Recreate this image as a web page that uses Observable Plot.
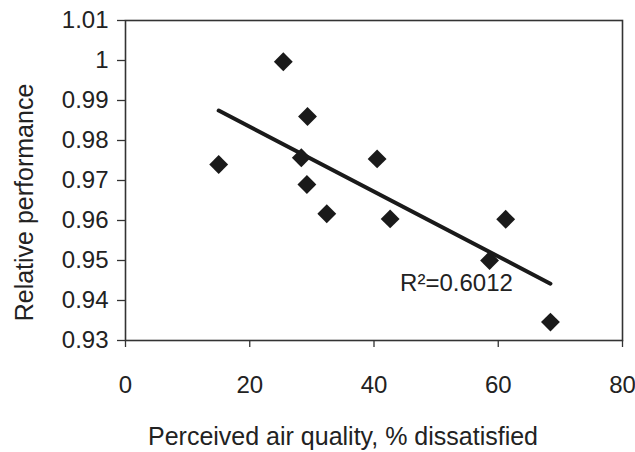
<!DOCTYPE html>
<html>
<head>
<meta charset="utf-8">
<script src="https://cdn.jsdelivr.net/npm/d3@7"></script>
<script src="https://cdn.jsdelivr.net/npm/@observablehq/plot@0.6"></script>
<style>
  html, body { margin: 0; padding: 0; background: #fff; }
  #chart svg { display: block; }
</style>
</head>
<body>
<div id="chart"></div>
<script>
// Data
const dissatisfied = [15, 25.4, 29.3, 28.3, 29.2, 32.4, 40.5, 42.6, 61.2, 58.6, 68.4];
const performance  = [0.974, 0.9997, 0.986, 0.9757, 0.969, 0.9617, 0.9754, 0.9604, 0.9603, 0.950, 0.9346];

const xTicks = [0, 20, 40, 60, 80];
const xTickLabels = ["0", "20", "40", "60", "80"];
const yTicks = [0.93, 0.94, 0.95, 0.96, 0.97, 0.98, 0.99, 1.00, 1.01];
const yTickLabels = ["0.93", "0.94", "0.95", "0.96", "0.97", "0.98", "0.99", "1", "1.01"];

const xLabel = "Perceived air quality, % dissatisfied";
const yLabel = "Relative performance";
const r2Label = "R\u00B2=0.6012";

const data = dissatisfied.map((x, i) => ({x, y: performance[i]}));

const ink = "#222";

const chart = Plot.plot({
  width: 635,
  height: 452,
  marginLeft: 125,
  marginRight: 13,
  marginTop: 20,
  marginBottom: 112,
  style: {fontFamily: "'Liberation Sans', Arial, Helvetica, sans-serif", background: "#fff", color: ink},
  x: {domain: [0, 80], axis: null},
  y: {domain: [0.93, 1.01], axis: null},
  marks: [
    Plot.frame({stroke: "#333", strokeWidth: 1.6}),
    Plot.axisX({
      ticks: xTicks,
      tickFormat: (d) => xTickLabels[xTicks.indexOf(d)],
      tickSize: 7, tickPadding: 28, fontSize: 24, stroke: "#333", strokeWidth: 1.3, fill: ink, label: null
    }),
    Plot.axisY({
      ticks: yTicks,
      tickFormat: (d) => yTickLabels[yTicks.indexOf(d)],
      tickSize: 8, tickPadding: 9, fontSize: 24, stroke: "#333", strokeWidth: 1.3, fill: ink, label: null
    }),
    Plot.linearRegressionY(data, {x: "x", y: "y", stroke: "#1a1a1a", strokeWidth: 4, ci: 0}),
    Plot.dot(data, {x: "x", y: "y", symbol: "diamond2", r: 8.5, fill: "#1a1a1a", stroke: "none"}),
    Plot.text([r2Label], {x: 44.2, y: 0.9444, text: d => d, textAnchor: "start", lineAnchor: "middle", fontSize: 24, fill: ink}),
    Plot.text([xLabel], {frameAnchor: "bottom", text: d => d, textAnchor: "middle", dx: -31, dy: 104, lineAnchor: "bottom", fontSize: 25, fill: ink}),
    Plot.text([yLabel], {frameAnchor: "left", text: d => d, textAnchor: "middle", rotate: -90, dx: -101, dy: 22, lineAnchor: "middle", fontSize: 25, fill: ink})
  ]
});

document.getElementById("chart").appendChild(chart);
</script>
</body>
</html>
